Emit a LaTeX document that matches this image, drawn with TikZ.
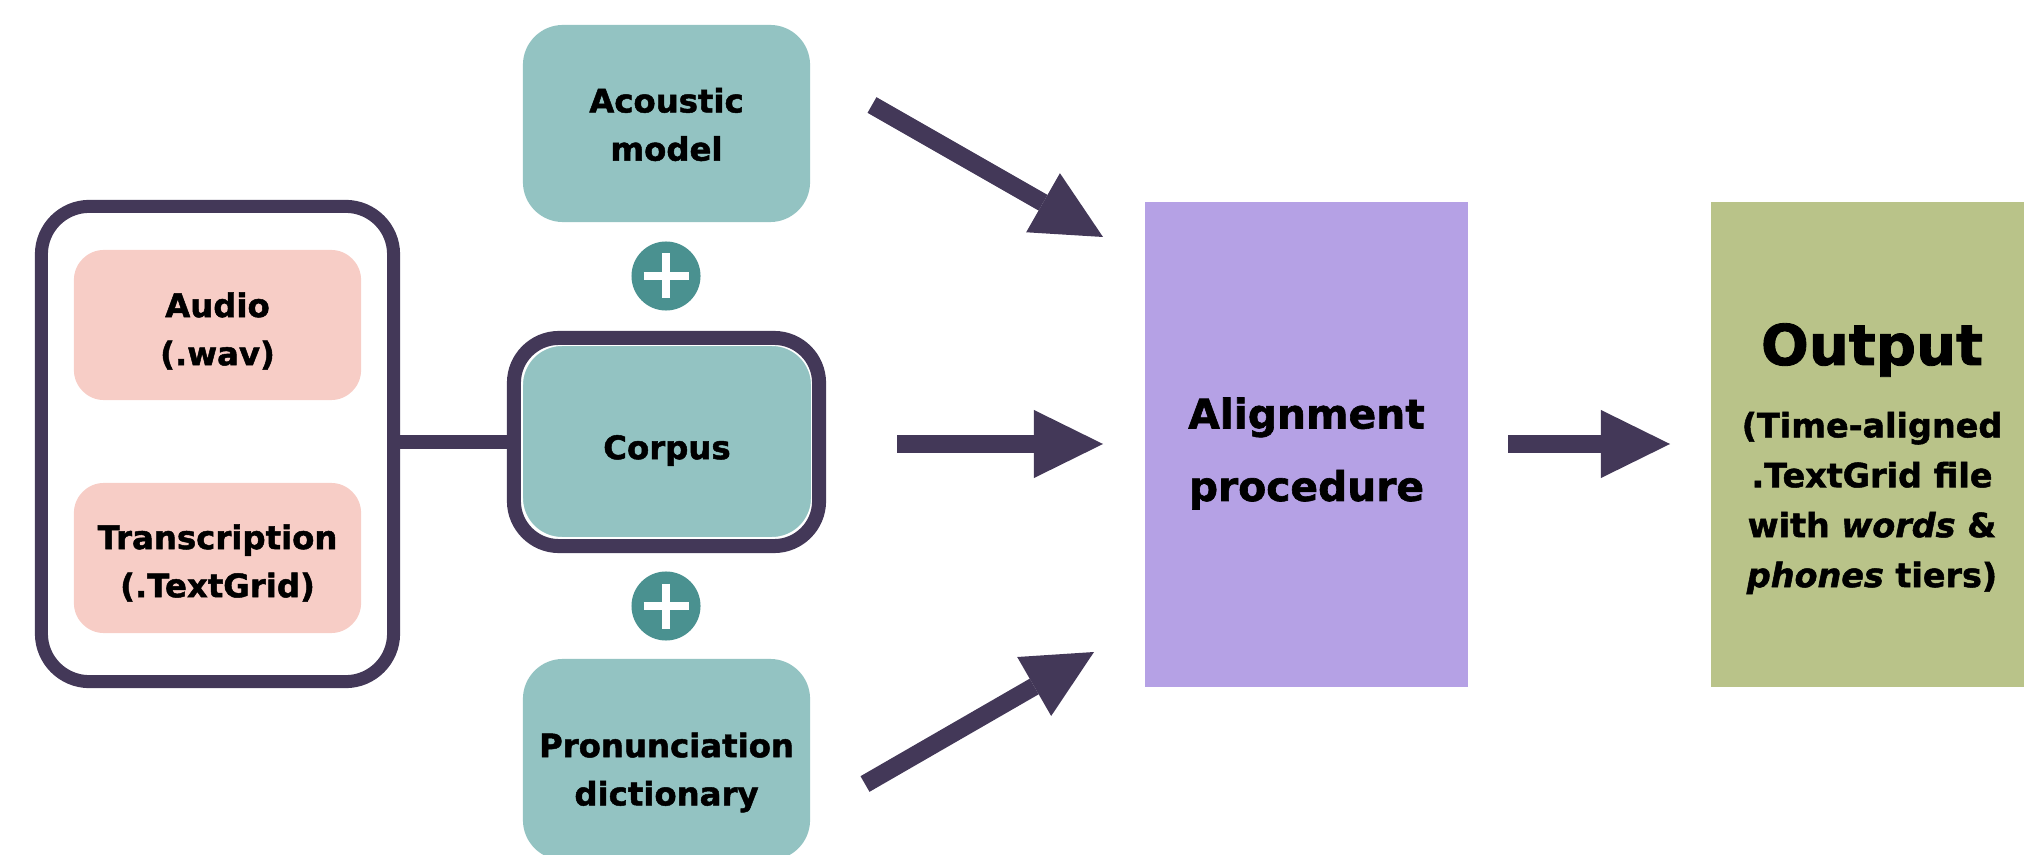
\documentclass[tikz,border=0pt]{standalone}
\usepackage{fontspec}
\setmainfont{DejaVu Sans}[BoldFeatures={FakeBold=1.5},BoldItalicFeatures={FakeBold=1.5}]
\usetikzlibrary{arrows.meta}
\definecolor{dk}{HTML}{433858}
\definecolor{tealbox}{HTML}{93C3C2}
\definecolor{pinkbox}{HTML}{F7CDC6}
\definecolor{plusc}{HTML}{4A9190}
\definecolor{alignc}{HTML}{B5A1E5}
\definecolor{outc}{HTML}{B9C389}
\newcommand\myfontA{\fontsize{9.2pt}{13.7pt}\selectfont\bfseries}
\newcommand\myfontB{\fontsize{11.6pt}{20.6pt}\selectfont\bfseries}
\newcommand\myfontC{\fontsize{16pt}{19pt}\selectfont\bfseries}
\newcommand\myfontD{\fontsize{9.5pt}{14.2pt}\selectfont\bfseries}
\begin{document}
\begin{tikzpicture}[x=0.01cm,y=-0.01cm,
  tbox/.style={fill=tealbox, rounded corners=0.4cm, minimum width=2.87cm, inner sep=0pt},
  pbox/.style={fill=pinkbox, rounded corners=0.3cm, minimum width=2.87cm, minimum height=1.5cm, inner sep=0pt},
  lbl/.style={align=center, font=\myfontA, inner sep=0pt},
  plusnode/.style={circle, fill=plusc, minimum size=0.69cm, inner sep=0pt},
  plusbar/.style={draw=white, line width=0.08cm},
  arr/.style={draw=dk, line width=0.18cm, -{Triangle[length=0.69cm, width=0.68cm, line width=0pt]}},
  dkline/.style={draw=dk, line width=0.13cm}
]
\useasboundingbox (0,0) rectangle (2024,855);
% left group
\node[draw=dk, line width=0.13cm, rounded corners=0.48cm, minimum width=3.52cm, minimum height=4.75cm, inner sep=0pt] (grp) at (217.5,444) {};
\node[pbox] (audio) at (217.5,325) {};
\node[lbl] (audiotxt) at ([yshift=-0.06cm]audio.center) {Audio\\(.wav)};
\node[pbox] (trans) at (217.5,558) {};
\node[lbl] (transtxt) at ([yshift=-0.05cm]trans.center) {Transcription\\(.TextGrid)};
% middle column
\node[tbox, minimum height=1.97cm] (acou) at (666.5,123.5) {};
\node[lbl] (acoutxt) at ([yshift=-0.01cm]acou.center) {Acoustic\\model};
\node[tbox, minimum width=2.90cm, minimum height=1.93cm, draw=white, line width=0.6pt] (corp) at (667,441.5) {};
\node[lbl] (corptxt) at ([yshift=-0.09cm]corp.center) {Corpus};
\node[draw=dk, line width=0.14cm, rounded corners=0.45cm, minimum width=3.05cm, minimum height=2.08cm, inner sep=0pt] (cb) at (666.5,442) {};
\node[tbox, minimum height=2.01cm] (pron) at (666.5,759.5) {};
\node[lbl] (prontxt) at ([yshift=-0.13cm]pron.center) {Pronunciation\\dictionary};
\node[plusnode] (p1) at (666,276) {};
\node[plusnode] (p2) at (666,606) {};
\draw[plusbar] (p1.center) ++(-22.5,0) -- ++(45,0);
\draw[plusbar] (p1.center) ++(0,-22.5) -- ++(0,45);
\draw[plusbar] (p2.center) ++(-22.5,0) -- ++(45,0);
\draw[plusbar] (p2.center) ++(0,-22.5) -- ++(0,45);
% connector group -> corpus
\draw[dkline] (cb.west -| grp.east) -- (cb.west);
% alignment and output
\node[fill=alignc, minimum width=3.23cm, minimum height=4.85cm, inner sep=0pt] (align) at (1306.5,444.5) {};
\node[lbl, font=\myfontB] (aligntxt) at ([yshift=-0.09cm]align.center) {Alignment\\procedure};
\node[fill=outc, minimum width=3.22cm, minimum height=4.85cm, inner sep=0pt] (out) at (1872,444.5) {};
\node[font=\myfontC, anchor=base] (outtitle) at (1872,365) {Output};
\node[lbl, font=\myfontD] (outtxt) at (1872,503) {(Time-aligned\\.TextGrid file\\with \textit{words} \&\\\textit{phones} tiers)};
% arrows
\coordinate (t1) at (872,105);  \coordinate (h1) at (1103,237);
\coordinate (t2) at (897,444);  \coordinate (h2) at (1103,444);
\coordinate (t3) at (865,784);  \coordinate (h3) at (1094,652);
\coordinate (t4) at (1508,444); \coordinate (h4) at (1670,444);
\draw[arr] (t1) -- (h1);
\draw[arr] (t2) -- (h2);
\draw[arr] (t3) -- (h3);
\draw[arr] (t4) -- (h4);
\end{tikzpicture}
\end{document}
